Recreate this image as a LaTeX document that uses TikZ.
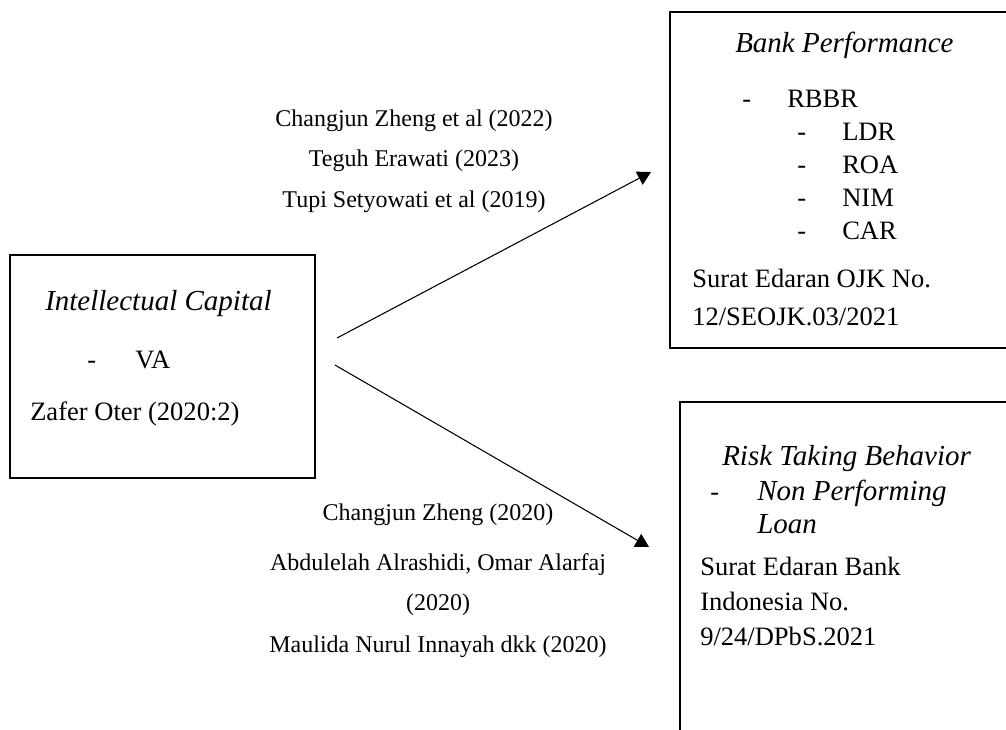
\documentclass[tikz,border=0pt]{standalone}
\usepackage{fontspec}
\setmainfont{Liberation Serif}
\usetikzlibrary{arrows.meta}
\begin{document}
\begin{tikzpicture}[x=0.75pt,y=-0.75pt,
  box/.style={draw, line width=1.6pt, rectangle, inner sep=0pt},
  ttl/.style={font=\fontsize{21.75}{26}\selectfont\itshape, inner sep=0pt, anchor=base west},
  txt/.style={font=\fontsize{19.9}{24}\selectfont, inner sep=0pt, anchor=base west},
  cite/.style={font=\fontsize{18}{22}\selectfont, inner sep=0pt, anchor=base},
  conn/.style={line width=0.8pt, -{Triangle[length=10pt,width=11pt]}}]
\useasboundingbox (0,0) rectangle (1006,729);
\clip (0,0) rectangle (1006,729);
% boxes
\node[box, minimum width=228.75pt, minimum height=167.25pt] (ic) at (162.5,366.5) {};
\node[box, minimum width=270pt, minimum height=252pt] (bp) at (850,180) {};
\node[box, minimum width=262.5pt, minimum height=268.5pt] (rt) at (855,581) {};
% left box text
\node[ttl] (icT) at (45,310) {Intellectual Capital};
\node[txt] (icD) at (87,368) {-};
\node[txt] (icVA) at (135,368) {VA};
\node[txt] (icZ) at (30,420) {Zafer Oter (2020:2)};
% top right box text
\node[ttl] (bpT) at (735,52) {Bank Performance};
\node[txt] (bpD1) at (742,107) {-};
\node[txt] (bpR) at (787,107) {RBBR};
\node[txt] (bpD2) at (797,140) {-};
\node[txt] (bpL) at (842,140) {LDR};
\node[txt] (bpD3) at (797,173) {-};
\node[txt] (bpO) at (842,173) {ROA};
\node[txt] (bpD4) at (797,206) {-};
\node[txt] (bpN) at (842,206) {NIM};
\node[txt] (bpD5) at (797,239) {-};
\node[txt] (bpC) at (842,239) {CAR};
\node[txt] (bpS1) at (692,287) {Surat Edaran OJK No.};
\node[txt] (bpS2) at (692,325) {12/SEOJK.03/2021};
% bottom right box text
\node[ttl] (rtT) at (722,465) {Risk Taking Behavior};
\node[txt] (rtD) at (710,500) {-};
\node[ttl] (rtN1) at (757,500) {Non Performing};
\node[ttl] (rtN2) at (757,533) {Loan};
\node[txt] (rtS1) at (700,575) {Surat Edaran Bank};
\node[txt] (rtS2) at (700,610) {Indonesia No.};
\node[txt] (rtS3) at (700,645) {9/24/DPbS.2021};
% citations
\node[cite] (c1) at (414,126) {Changjun Zheng et al (2022)};
\node[cite] (c2) at (414,166) {Teguh Erawati (2023)};
\node[cite] (c3) at (414,207) {Tupi Setyowati et al (2019)};
\node[cite] (c4) at (438,520) {Changjun Zheng (2020)};
\node[cite] (c5) at (438,570) {Abdulelah Alrashidi, Omar Alarfaj};
\node[cite] (c6) at (438,610) {(2020)};
\node[cite] (c7) at (438,652) {Maulida Nurul Innayah dkk (2020)};
% connectors
\coordinate (a1s) at (337,338);
\coordinate (a1e) at (651,172);
\coordinate (a2s) at (335,365);
\coordinate (a2e) at (649,547);
\draw[conn] (a1s) -- (a1e);
\draw[conn] (a2s) -- (a2e);
\end{tikzpicture}
\end{document}
